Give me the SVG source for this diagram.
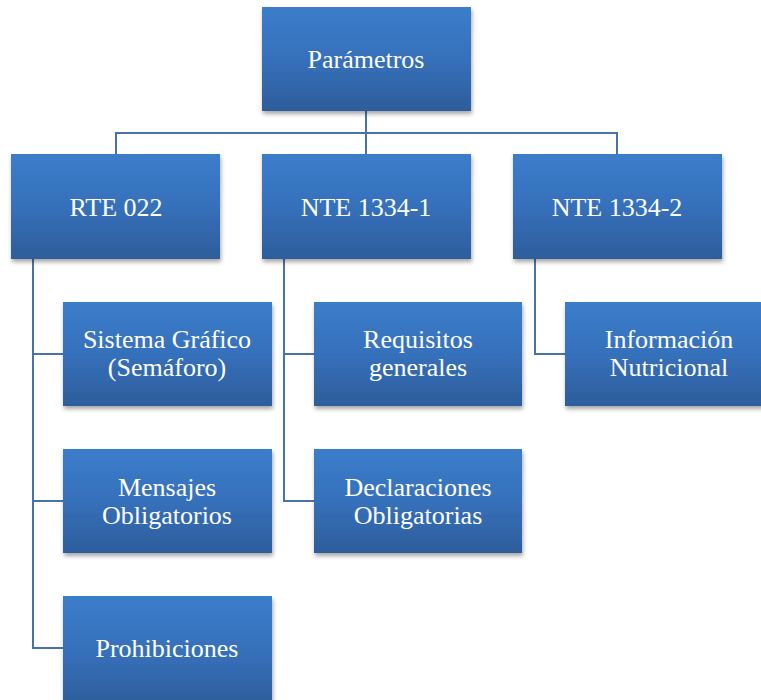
<svg xmlns="http://www.w3.org/2000/svg" width="761" height="700" viewBox="0 0 761 700">
<style>
.box{fill:url(#g);filter:url(#sh)}
.t{font-family:"Liberation Serif","Times New Roman",serif;font-size:26px;fill:#ffffff;text-anchor:middle}
.c{fill:none;stroke:#4873a8;stroke-width:2}
</style>
<defs>
<linearGradient id="g" x1="0" y1="0" x2="0" y2="1">
<stop offset="0" stop-color="#3b7dcb"/>
<stop offset="0.5" stop-color="#3670bb"/>
<stop offset="1" stop-color="#2d5d9b"/>
</linearGradient>
<filter id="sh" x="-10%" y="-10%" width="120%" height="130%">
<feDropShadow dx="1" dy="3" stdDeviation="2" flood-color="#000" flood-opacity="0.35"/>
</filter>
</defs>
<rect width="761" height="700" fill="#ffffff"/>
<g id="connectors">
<path class="c" d="M366 111V133M116 154V133H617V154M366 133V154"/>
<path class="c" d="M33 259V648H63M33 354H63M33 501H63"/>
<path class="c" d="M284 259V501H314M284 354H314"/>
<path class="c" d="M535 259V354H565"/>
</g>
<g id="n-parametros"><rect class="box" x="262" y="7" width="209" height="104"/><text class="t" x="366" y="68">Parámetros</text></g>
<g id="n-rte022"><rect class="box" x="11" y="154" width="209" height="105"/><text class="t" x="116" y="216">RTE 022</text></g>
<g id="n-nte1"><rect class="box" x="262" y="154" width="209" height="105"/><text class="t" x="366" y="216">NTE 1334-1</text></g>
<g id="n-nte2"><rect class="box" x="513" y="154" width="209" height="105"/><text class="t" x="617" y="216">NTE 1334-2</text></g>
<g id="n-sistema"><rect class="box" x="63" y="302" width="209" height="104"/><text class="t" x="167" y="348">Sistema Gráfico</text><text class="t" x="167" y="376">(Semáforo)</text></g>
<g id="n-mensajes"><rect class="box" x="63" y="449" width="209" height="104"/><text class="t" x="167" y="496">Mensajes</text><text class="t" x="167" y="524">Obligatorios</text></g>
<g id="n-prohibiciones"><rect class="box" x="63" y="596" width="209" height="110"/><text class="t" x="167" y="657">Prohibiciones</text></g>
<g id="n-requisitos"><rect class="box" x="314" y="302" width="208" height="104"/><text class="t" x="418" y="348">Requisitos</text><text class="t" x="418" y="376">generales</text></g>
<g id="n-declaraciones"><rect class="box" x="314" y="449" width="208" height="104"/><text class="t" x="418" y="496">Declaraciones</text><text class="t" x="418" y="524">Obligatorias</text></g>
<g id="n-informacion"><rect class="box" x="565" y="302" width="209" height="104"/><text class="t" x="669" y="348">Información</text><text class="t" x="669" y="376">Nutricional</text></g>
</svg>
